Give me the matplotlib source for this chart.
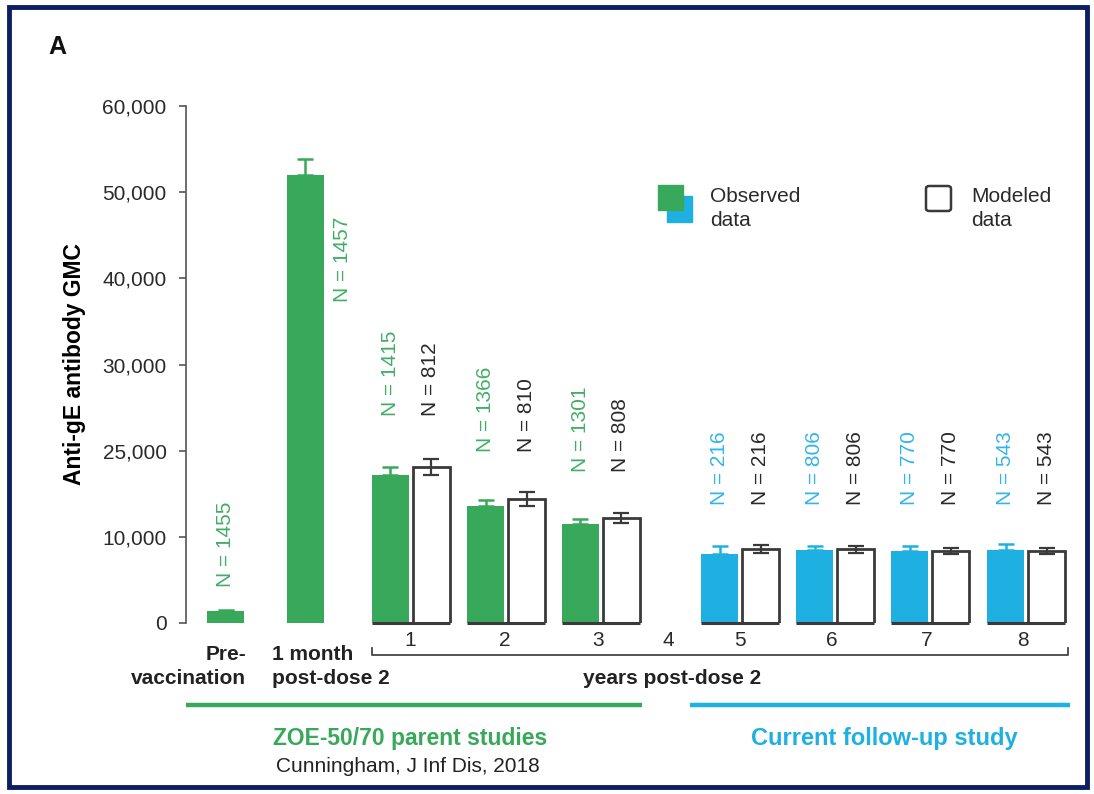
import matplotlib
matplotlib.use("Agg")
import matplotlib.pyplot as plt
from matplotlib.patches import Rectangle, FancyBboxPatch
from matplotlib.lines import Line2D

# ---------------- data ----------------
single_labels = ["Pre-vaccination", "1 month post-dose 2"]
single_gmc = [1350, 52000]
single_err = [200, 1850]
single_n = ["N = 1455", "N = 1457"]

years = [1, 2, 3, 5, 6, 7, 8]
observed_gmc = [17200, 13570, 11480, 8000, 8470, 8350, 8470]
observed_err = [900, 700, 600, 930, 460, 550, 690]
modeled_gmc = [18100, 14380, 12180, 8580, 8580, 8350, 8350]
modeled_err = [900, 800, 600, 500, 400, 400, 400]
observed_n = ["N = 1415", "N = 1366", "N = 1301", "N = 216", "N = 806", "N = 770", "N = 543"]
modeled_n = ["N = 812", "N = 810", "N = 808", "N = 216", "N = 806", "N = 770", "N = 543"]
year_axis_labels = ["1", "2", "3", "4", "5", "6", "7", "8"]

ytick_values = [0, 10000, 20000, 30000, 40000, 50000, 60000]
ytick_labels = ["0", "10,000", "25,000", "30,000", "40,000", "50,000", "60,000"]

# ---------------- layout ----------------
W, H = 1094, 794
single_x = [226, 305]
group_x = [410, 505.5, 600, 739.5, 834.5, 929.5, 1025.5]
year_label_x = [410, 505, 598, 668, 740, 832, 927, 1023]
n_label_y = [24000, 19900, 17500, 13700, 13700, 13700, 13700]
single_n_y = [4200, 37300]
single_n_x = [226, 343]

GREEN = "#38a95a"
BLUE = "#1fb0e2"
GREEN_TXT = "#42ad66"
BLUE_TXT = "#33b5e8"
DARK = "#3a3a3a"
NAVY = "#0c1f62"

SANS = ["Liberation Sans", "DejaVu Sans"]
plt.rcParams["font.family"] = SANS


def fx(x):
    return x / W


def fy(y):
    return 1 - y / H


fig = plt.figure(figsize=(W / 100, H / 100), dpi=100)
fig.patch.set_facecolor("white")

ax = fig.add_axes([fx(186), fy(623), (1075 - 186) / W, (623 - 106) / H])
ax.set_xlim(186, 1075)
ax.set_ylim(0, 60000)
ax.patch.set_alpha(0)
for s in ["top", "right", "bottom"]:
    ax.spines[s].set_visible(False)
ax.spines["left"].set_color("#555555")
ax.spines["left"].set_linewidth(1.2)
ax.set_xticks([])
ax.set_yticks(ytick_values)
ax.set_yticklabels(ytick_labels, fontsize=15, color="#2a2a2a")
ax.tick_params(axis="y", length=5, width=1.2, color="#555555", pad=9)
ax.set_ylabel("Anti-gE antibody GMC", fontsize=16.5, fontweight="bold",
              labelpad=12)

obs_w = 37
mod_w = 37

# single observed bars (pre-vaccination and 1 month)
ax.bar(single_x, single_gmc, width=obs_w, color=GREEN, zorder=2)
ax.errorbar(single_x, single_gmc, yerr=[[0, 0], single_err], fmt="none",
            ecolor=GREEN, elinewidth=1.8, capsize=6, capthick=1.8, zorder=3)
for x, y, t in zip(single_n_x, single_n_y, single_n):
    ax.text(x, y, t, rotation=90, ha="center", va="bottom", fontsize=15,
            color=GREEN_TXT)

# yearly observed / modeled pairs
for i, c in enumerate(group_x):
    col = GREEN if years[i] <= 3 else BLUE
    tcol = GREEN_TXT if years[i] <= 3 else BLUE_TXT
    ox = c - 20
    mx = c + 21
    ax.bar(ox, observed_gmc[i], width=obs_w, color=col, zorder=2)
    ax.errorbar(ox, observed_gmc[i], yerr=[[0], [observed_err[i]]], fmt="none",
                ecolor=col, elinewidth=1.8, capsize=6, capthick=1.8, zorder=3)
    ax.bar(mx, modeled_gmc[i], width=mod_w, color="white", edgecolor=DARK,
           linewidth=2.0, zorder=2)
    ax.errorbar(mx, modeled_gmc[i], yerr=modeled_err[i], fmt="none",
                ecolor=DARK, elinewidth=1.6, capsize=6, capthick=1.6, zorder=3)
    ax.plot([ox - obs_w / 2, mx + mod_w / 2], [0, 0], color=DARK, lw=2.2,
            solid_capstyle="butt", zorder=4, clip_on=False)
    ax.text(ox, n_label_y[i], observed_n[i], rotation=90, ha="center",
            va="bottom", fontsize=15, color=tcol)
    ax.text(mx, n_label_y[i], modeled_n[i], rotation=90, ha="center",
            va="bottom", fontsize=15, color="#2a2a2a")

# year numbers under the groups
for x, t in zip(year_label_x, year_axis_labels):
    fig.text(fx(x), fy(640), t, ha="center", va="center", fontsize=15,
             color="#2a2a2a")

# bracket for years post-dose 2
bx0, bx1, by = 372, 1068, 655
fig.add_artist(Line2D([fx(bx0), fx(bx0), fx(bx1), fx(bx1)],
                      [fy(by - 7), fy(by), fy(by), fy(by - 7)],
                      color="#444444", lw=1.3))

# category captions
cap_kw = dict(fontsize=15, fontweight="bold", color="#222222", va="center")
fig.text(fx(246), fy(655), "Pre-", ha="right", **cap_kw)
fig.text(fx(246), fy(679), "vaccination", ha="right", **cap_kw)
fig.text(fx(272), fy(655), "1 month", ha="left", **cap_kw)
fig.text(fx(272), fy(679), "post-dose 2", ha="left", **cap_kw)
fig.text(fx(672), fy(678), "years post-dose 2", ha="center", **cap_kw)

# study bands
fig.add_artist(Line2D([fx(186), fx(642)], [fy(705), fy(705)], color=GREEN,
                      lw=3.2, solid_capstyle="butt"))
fig.add_artist(Line2D([fx(690), fx(1070)], [fy(705), fy(705)], color=BLUE,
                      lw=3.2, solid_capstyle="butt"))
fig.text(fx(410), fy(738), "ZOE-50/70 parent studies", ha="center", va="center",
         fontsize=16.5, fontweight="bold", color=GREEN)
fig.text(fx(408), fy(766), "Cunningham, J Inf Dis, 2018", ha="center",
         va="center", fontsize=15, color="#222222")
fig.text(fx(884), fy(738), "Current follow-up study", ha="center", va="center",
         fontsize=17, fontweight="bold", color=BLUE)

# legend
fig.add_artist(Rectangle((fx(667), fy(222)), 25 / W, 26 / H, color=BLUE,
                         transform=fig.transFigure))
fig.add_artist(Rectangle((fx(658), fy(210)), 25 / W, 25 / H, color=GREEN,
                         transform=fig.transFigure))
leg_kw = dict(fontsize=15, color="#2a2a2a", ha="left", va="center")
fig.text(fx(710), fy(196), "Observed", **leg_kw)
fig.text(fx(710), fy(220), "data", **leg_kw)
fig.add_artist(FancyBboxPatch((fx(926), fy(211)), 25 / W, 25 / H,
                              boxstyle="round,pad=0,rounding_size=0.003",
                              facecolor="white", edgecolor=DARK, lw=1.8,
                              transform=fig.transFigure))
fig.text(fx(971), fy(196), "Modeled", **leg_kw)
fig.text(fx(971), fy(220), "data", **leg_kw)

# panel letter and frame
fig.text(fx(48), fy(47), "A", ha="left", va="center", fontsize=18,
         fontweight="bold", color="#111111")
fig.add_artist(Rectangle((fx(9), fy(787)), (1087 - 9) / W, (787 - 7) / H,
                         fill=False, edgecolor=NAVY, lw=3.5,
                         transform=fig.transFigure))

fig.savefig("out.png", dpi=100, facecolor="white")
